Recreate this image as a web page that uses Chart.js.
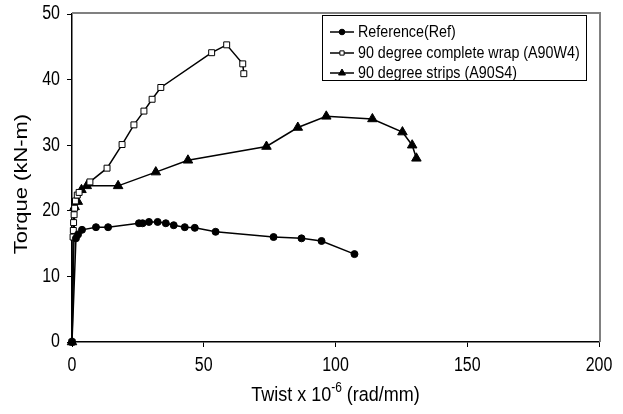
<!DOCTYPE html>
<html>
<head>
<meta charset="utf-8">
<script src="https://cdn.jsdelivr.net/npm/chart.js@4"></script>
<style>
html,body{margin:0;padding:0;background:#fff;}
#wrap{width:623px;height:414px;position:relative;}
</style>
</head>
<body>
<div id="wrap"><canvas id="c" width="623" height="414"></canvas></div>
<script>
// ---- Data ----
const seriesLabels = ["Reference(Ref)", "90 degree complete wrap (A90W4)", "90 degree strips (A90S4)"];

const refTwist  = [0, 1.5, 2.3, 3.8, 9.1, 13.7, 25.4, 26.8, 29.2, 32.5, 35.6, 38.6, 42.8, 46.6, 54.5, 76.5, 87.1, 94.7, 107.2];
const refTorque = [0, 15.8, 16.4, 17.1, 17.5, 17.5, 18.1, 18.1, 18.3, 18.3, 18.1, 17.8, 17.5, 17.4, 16.8, 16.0, 15.8, 15.4, 13.4];

const wrapTwist  = [0, 0.4, 0.5, 0.6, 0.8, 1.0, 1.3, 2.0, 2.7, 6.8, 13.3, 19.0, 23.5, 27.3, 30.4, 33.7, 53.0, 58.7, 64.8, 65.2];
const wrapTorque = [0, 16.0, 17.0, 18.2, 19.4, 20.4, 21.5, 22.4, 22.8, 24.4, 26.5, 30.1, 33.1, 35.2, 37.0, 38.8, 44.1, 45.3, 42.4, 40.9];

const stripTwist  = [0, 1.0, 2.2, 3.6, 5.6, 17.5, 31.8, 44.0, 73.8, 85.7, 96.5, 114.0, 125.4, 129.1, 130.7];
const stripTorque = [0, 20.6, 21.4, 23.2, 23.8, 23.8, 25.9, 27.7, 29.8, 32.7, 34.4, 34.0, 32.0, 30.0, 28.0];

const xTicks = [0, 50, 100, 150, 200];
const yTicks = [0, 10, 20, 30, 40, 50];

const xTitle = {main: "Twist x 10", sup: "-6", rest: " (rad/mm)"};
const yTitle = "Torque (kN-m)";

function pts(xs, ys){ return xs.map((x,i)=>({x:x, y:ys[i]})); }

const FONT = "'Liberation Sans', Arial, sans-serif";

const styles = [
  {pointStyle:'circle', pointRadius:3.5, pointBackgroundColor:'#000', pointBorderColor:'#000', pointBorderWidth:1},
  {pointStyle:'rect', pointRadius:4.2, pointBackgroundColor:'#fff', pointBorderColor:'#000', pointBorderWidth:1},
  {pointStyle:'triangle', pointRadius:5.5, pointBackgroundColor:'#000', pointBorderColor:'#000', pointBorderWidth:1}
];

const datasets = [
  pts(refTwist, refTorque),
  pts(wrapTwist, wrapTorque),
  pts(stripTwist, stripTorque)
].map((d,i)=>Object.assign({
  label: seriesLabels[i],
  data: d,
  showLine: true,
  borderColor:'#000',
  borderWidth:1.5,
  fill:false,
  tension:0,
  clip:false
}, styles[i]));

// text drawn with a slight vertical stretch, like the reference rendering
function sText(ctx, text, x, y, font, sy, align, baseline){
  ctx.save();
  ctx.translate(x, y);
  ctx.scale(1, sy);
  ctx.font = font;
  ctx.textAlign = align;
  ctx.textBaseline = baseline;
  ctx.fillText(text, 0, 0);
  ctx.restore();
}

const decorPlugin = {
  id:'decor',
  afterDraw(chart){
    const ctx = chart.ctx;
    const a = chart.chartArea;
    const xs = chart.scales.x, ys = chart.scales.y;
    ctx.save();
    // gray top and right frame
    ctx.strokeStyle = '#808080';
    ctx.lineWidth = 2;
    ctx.beginPath();
    ctx.moveTo(a.left, a.top - 1);
    ctx.lineTo(a.right + 1, a.top - 1);
    ctx.lineTo(a.right + 1, a.bottom);
    ctx.stroke();

    ctx.fillStyle = '#000';
    // tick labels
    const tickFont = "16px " + FONT;
    xTicks.forEach(v=>{
      sText(ctx, String(v), xs.getPixelForValue(v), 366, tickFont, 1.22, 'center', 'middle');
    });
    yTicks.forEach(v=>{
      sText(ctx, String(v), 60, ys.getPixelForValue(v), tickFont, 1.22, 'right', 'middle');
    });

    // x title with superscript
    const mainF = "18px " + FONT, supF = "12px " + FONT;
    ctx.font = mainF; const w1 = ctx.measureText(xTitle.main).width; const w3 = ctx.measureText(xTitle.rest).width;
    ctx.font = supF; const w2 = ctx.measureText(xTitle.sup).width;
    const total = w1 + w2 + w3;
    let x = (a.left + a.right)/2 - total/2;
    const yb = 401;
    sText(ctx, xTitle.main, x, yb, mainF, 1.15, 'left', 'alphabetic'); x += w1;
    sText(ctx, xTitle.sup, x, yb - 9, supF, 1.15, 'left', 'alphabetic'); x += w2;
    sText(ctx, xTitle.rest, x, yb, mainF, 1.15, 'left', 'alphabetic');

    // y title rotated (stretched along its length)
    ctx.save();
    ctx.translate(22, (a.top + a.bottom)/2 + 6);
    ctx.rotate(-Math.PI/2);
    ctx.scale(1.22, 1);
    ctx.textAlign = 'center';
    ctx.textBaseline = 'middle';
    ctx.font = "18px " + FONT;
    ctx.fillText(yTitle, 0, 0);
    ctx.restore();

    // legend box
    const bx = 322.5, by = 15.5, bw = 264, bh = 65;
    ctx.fillStyle = '#fff';
    ctx.fillRect(bx, by, bw, bh);
    ctx.strokeStyle = '#000';
    ctx.lineWidth = 1;
    ctx.strokeRect(bx, by, bw, bh);
    const rows = [32, 53, 73];
    chart.data.datasets.forEach((ds, i)=>{
      const yy = rows[i];
      ctx.strokeStyle = '#000';
      ctx.lineWidth = 1.5;
      ctx.beginPath();
      ctx.moveTo(330, yy); ctx.lineTo(354, yy); ctx.stroke();
      ctx.fillStyle = ds.pointBackgroundColor;
      ctx.strokeStyle = '#000';
      ctx.lineWidth = 1;
      const r = i===0 ? 2.8 : (i===1 ? 3 : 4);
      Chart.helpers.drawPoint(ctx, {pointStyle: ds.pointStyle, radius: r, borderWidth: 1}, 342, yy);
      ctx.fillStyle = '#000';
      sText(ctx, ds.label, 358, yy, "14.3px " + FONT, 1.15, 'left', 'middle');
    });
    ctx.restore();
  }
};

new Chart(document.getElementById('c'), {
  type:'scatter',
  data:{datasets: datasets},
  options:{
    responsive:false,
    animation:false,
    devicePixelRatio:1,
    layout:{padding:{left:0, top:14, right:24, bottom:0}},
    plugins:{legend:{display:false}, tooltip:{enabled:false}},
    scales:{
      x:{
        type:'linear', min:0, max:200,
        afterBuildTicks(s){ s.ticks = xTicks.map(v=>({value:v})); },
        afterFit(s){ s.height = 72; },
        border:{display:true, color:'#000', width:1.5},
        grid:{display:true, drawOnChartArea:false, drawTicks:true, tickLength:5, color:'#000', lineWidth:1},
        ticks:{display:false}
      },
      y:{
        type:'linear', min:0, max:50,
        afterBuildTicks(s){ s.ticks = yTicks.map(v=>({value:v})); },
        afterFit(s){ s.width = 72; },
        border:{display:true, color:'#000', width:1.5},
        grid:{display:true, drawOnChartArea:false, drawTicks:true, tickLength:5, color:'#000', lineWidth:1},
        ticks:{display:false}
      }
    }
  },
  plugins:[decorPlugin]
});
</script>
</body>
</html>
